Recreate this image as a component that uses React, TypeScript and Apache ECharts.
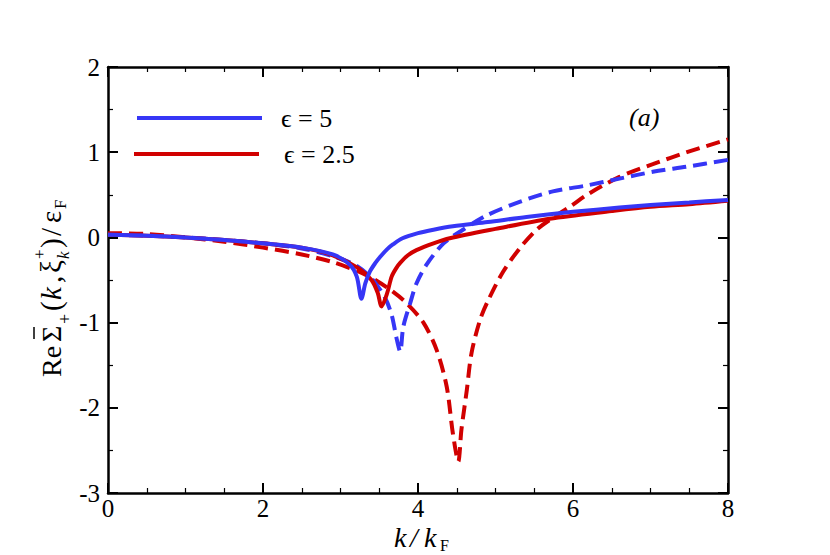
import React, { useEffect, useRef } from "react";
import * as echarts from "echarts";

// ---- data ----
const kBlueSolid = [0, 0.5, 1.0, 1.5, 2.0, 2.5, 2.9, 3.12, 3.21, 3.27, 3.32, 3.38, 3.45, 3.51, 3.6, 3.68, 3.8, 4.0, 4.2, 4.45, 4.9, 5.4, 6.0, 6.6, 7.0, 7.5, 8.0];
const vBlueSolid = [0.03, 0.02, 0.0, -0.03, -0.07, -0.12, -0.2, -0.32, -0.46, -0.72, -0.54, -0.4, -0.3, -0.23, -0.14, -0.08, -0.01, 0.05, 0.09, 0.13, 0.18, 0.24, 0.3, 0.35, 0.38, 0.41, 0.44];

const kRedSolid = [0, 0.5, 1.0, 1.5, 2.0, 2.5, 2.9, 3.23, 3.4, 3.48, 3.53, 3.6, 3.66, 3.72, 3.77, 3.87, 3.98, 4.2, 4.41, 5.0, 5.7, 6.5, 7.0, 7.5, 8.0];
const vRedSolid = [0.03, 0.02, 0.0, -0.03, -0.07, -0.12, -0.21, -0.36, -0.5, -0.65, -0.81, -0.66, -0.46, -0.36, -0.3, -0.21, -0.15, -0.07, -0.01, 0.1, 0.22, 0.31, 0.36, 0.39, 0.43];

const kBlueDash = [0, 0.5, 1.0, 1.5, 2.0, 2.5, 2.9, 3.2, 3.4, 3.57, 3.66, 3.72, 3.77, 3.81, 3.9, 3.98, 4.11, 4.33, 4.58, 4.89, 5.32, 5.74, 6.18, 6.6, 7.03, 7.47, 8.0];
const vBlueDash = [0.03, 0.02, 0.0, -0.03, -0.07, -0.13, -0.22, -0.33, -0.48, -0.7, -0.91, -1.17, -1.34, -1.05, -0.77, -0.54, -0.32, -0.07, 0.09, 0.26, 0.42, 0.54, 0.61, 0.69, 0.77, 0.83, 0.91];

const kRedDash = [0, 0.5, 1.0, 1.5, 2.0, 2.5, 2.9, 3.23, 3.45, 3.68, 3.85, 4.07, 4.24, 4.37, 4.45, 4.52, 4.56, 4.63, 4.69, 4.8, 4.9, 5.1, 5.32, 5.53, 5.74, 5.96, 6.18, 6.6, 7.03, 7.47, 8.0];
const vRedDash = [0.05, 0.04, 0.0, -0.05, -0.12, -0.2, -0.29, -0.4, -0.5, -0.64, -0.77, -1.0, -1.32, -1.75, -2.3, -2.63, -2.26, -1.79, -1.36, -0.97, -0.75, -0.4, -0.12, 0.09, 0.23, 0.36, 0.5, 0.71, 0.86, 1.0, 1.15];

const xTicks = { min: 0, max: 8, interval: 2 };
const yTicks = { min: -3, max: 2, interval: 1 };
const legendLabels = ["\u03f5 = 5", "\u03f5 = 2.5"];
const panelLabel = "(a)";

const BLUE = "#3636f6";
const RED = "#d10000";
const SERIF = "Liberation Serif, Times New Roman, DejaVu Serif, serif";

const zip = (k: number[], v: number[]) => k.map((x, i) => [x, v[i]]);

const lineAxis = { show: true, onZero: false, lineStyle: { color: "#000", width: 2.5 } };
const majorTick = { show: true, inside: true, length: 10, lineStyle: { color: "#000", width: 2 } };
const minor = (n: number) => ({ show: true, splitNumber: n, length: 5, lineStyle: { color: "#000", width: 1.2 } });
const labelStyle = { color: "#000", fontFamily: SERIF, fontSize: 25 };

export default function App() {
  const ref = useRef<HTMLDivElement>(null);
  useEffect(() => {
    if (!ref.current) return;
    const chart = echarts.init(ref.current, undefined, { renderer: "svg" });
    const txt = (text: string, x: number, y: number, fs: number, extra: any = {}) => ({
      type: "text",
      x,
      y,
      style: {
        text,
        fontSize: fs,
        fontFamily: SERIF,
        fill: "#000",
        verticalAlign: "middle",
        align: "left",
        ...extra,
      },
    });
    const it = { fontStyle: "italic" };
    const lineSeries = (k: number[], v: number[], color: string, dashed: boolean, name?: string) => ({
      type: "line",
      name,
      data: zip(k, v),
      showSymbol: false,
      smooth: 0.3,
      lineStyle: { color, width: 4, type: dashed ? [14, 7] : "solid" },
    });
    const option: any = {
      animation: false,
      backgroundColor: "#fff",
      grid: { left: 108, right: 102, top: 67, bottom: 62, containLabel: false },
      xAxis: [
        {
          type: "value", position: "bottom", ...xTicks,
          axisLine: lineAxis, axisTick: majorTick, minorTick: minor(4),
          splitLine: { show: false },
          axisLabel: { ...labelStyle, margin: 3 },
        },
        {
          type: "value", position: "top", ...xTicks,
          axisLine: lineAxis, axisTick: majorTick, minorTick: minor(4),
          splitLine: { show: false }, axisLabel: { show: false },
        },
      ],
      yAxis: [
        {
          type: "value", position: "left", ...yTicks,
          axisLine: lineAxis, axisTick: majorTick, minorTick: minor(2),
          splitLine: { show: false },
          axisLabel: { ...labelStyle, margin: 8 },
        },
        {
          type: "value", position: "right", ...yTicks,
          axisLine: lineAxis, axisTick: majorTick, minorTick: minor(2),
          splitLine: { show: false }, axisLabel: { show: false },
        },
      ],
      series: [
        lineSeries(kRedDash, vRedDash, RED, true),
        lineSeries(kBlueDash, vBlueDash, BLUE, true),
        lineSeries(kRedSolid, vRedSolid, RED, false, legendLabels[1]),
        lineSeries(kBlueSolid, vBlueSolid, BLUE, false, legendLabels[0]),
      ],
      graphic: [
        // legend
        { type: "line", shape: { x1: 137, y1: 118, x2: 262, y2: 118 }, style: { stroke: BLUE, lineWidth: 4 } },
        { type: "line", shape: { x1: 134, y1: 154, x2: 259, y2: 154 }, style: { stroke: RED, lineWidth: 4 } },
        txt(legendLabels[0], 281, 118, 26),
        txt(legendLabels[1], 284, 154, 26),
        txt(panelLabel, 629, 117, 26, it),
        // x axis title: k / k_F
        {
          type: "group",
          children: [
            txt("k", 394, 537, 28, it),
            txt("/", 410, 537, 28, it),
            txt("k", 424, 537, 28, it),
            txt("F", 440, 545, 16),
          ],
        },
        // y axis title (rotated)
        {
          type: "group",
          x: 60,
          y: 377,
          rotation: Math.PI / 2,
          children: [
            txt("Re", 0, -9, 28),
            txt("\u03a3", 35, -9, 28),
            { type: "line", shape: { x1: 38, y1: -26, x2: 50, y2: -26 }, style: { stroke: "#000", lineWidth: 1.5 } },
            txt("+", 53, 5, 18),
            txt("(", 66, -9, 29),
            txt("k", 77, -9, 29, it),
            txt(",", 94, -9, 29),
            txt("\u03be", 104, -9, 29),
            txt("+", 118, -21, 17),
            txt("k", 118, 3, 17, it),
            txt(")", 129, -9, 29),
            txt("/", 141, -9, 29),
            txt("\u03b5", 154, -9, 29),
            txt("F", 168, 0, 17),
          ],
        },
      ],
    };
    chart.setOption(option);
    return () => chart.dispose();
  }, []);
  return (
    <div
      ref={ref}
      style={{ position: "absolute", left: 0, top: 0, width: 830, height: 555, background: "#fff" }}
    />
  );
}
